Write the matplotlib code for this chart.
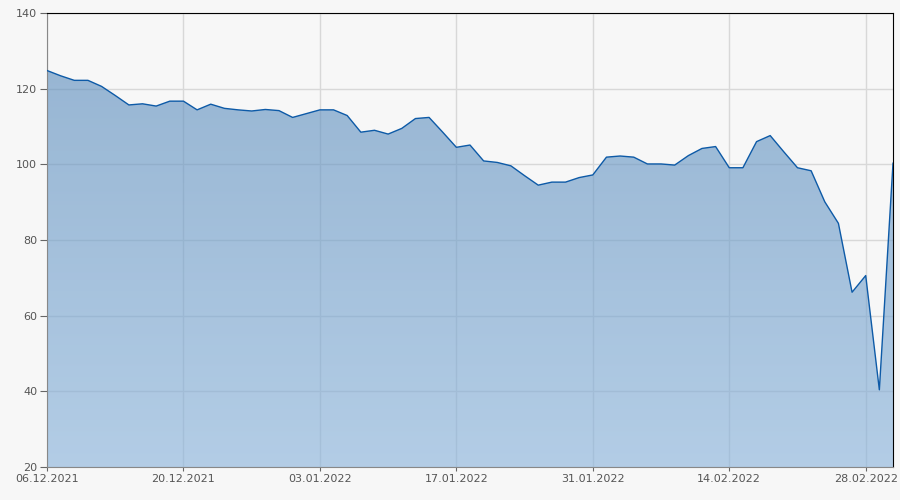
import numpy as np
import matplotlib.pyplot as plt
from matplotlib.patches import Polygon

# 收盘价（按交易日序号排列）
values = [124.8, 123.4, 122.2, 122.2, 120.6, 118.2, 115.7, 116.0, 115.4, 116.7,
          116.7, 114.4, 115.9, 114.8, 114.4, 114.1, 114.5, 114.2, 112.4, 113.4,
          114.4, 114.4, 112.9, 108.5, 109.0, 108.0, 109.5, 112.1, 112.4, 108.5,
          104.5, 105.1, 100.9, 100.5, 99.6, 97.0, 94.5, 95.3, 95.3, 96.5,
          97.2, 101.9, 102.2, 101.9, 100.1, 100.1, 99.8, 102.3, 104.2, 104.7,
          99.1, 99.1, 106.0, 107.6, 103.3, 99.1, 98.3, 90.1, 84.4, 66.2,
          70.6, 40.4, 100.3]
tick_pos = [0, 10, 20, 30, 40, 50, 60]
tick_labels = ['06.12.2021', '20.12.2021', '03.01.2022', '17.01.2022',
               '31.01.2022', '14.02.2022', '28.02.2022']
y_ticks = [20, 40, 60, 80, 100, 120, 140]

bg = '#f7f7f7'
x = np.arange(len(values))
y = np.array(values)

fig = plt.figure(figsize=(9, 5), dpi=100, facecolor=bg)
ax = fig.add_axes([47 / 900, 33 / 500, 846 / 900, 454 / 500], facecolor=bg)
ax.set_xlim(0, len(values) - 1)
ax.set_ylim(20, 140)

ax.grid(True, color='#d8d8d8', linewidth=1)
ax.set_axisbelow(True)

# 渐变填充（上深下浅），用多边形裁剪
a = 0.62
top = (np.array([148, 179, 209]) - (1 - a) * 247) / a / 255
bot = (np.array([179, 205, 230]) - (1 - a) * 247) / a / 255
t = np.linspace(0, 1, 256)[:, None]
grad = np.clip(top * (1 - t) + bot * t, 0, 1)
img = np.ones((256, 1, 4))
img[:, 0, :3] = grad
img[:, 0, 3] = a
poly = Polygon(np.column_stack([np.r_[x[0], x, x[-1]], np.r_[20, y, 20]]),
               closed=True, facecolor='none', edgecolor='none')
ax.add_patch(poly)
im = ax.imshow(img, extent=[0, len(values) - 1, 20, 140], aspect='auto',
               origin='upper', zorder=2)
im.set_clip_path(poly)

ax.plot(x, y, color='#0d5aa7', linewidth=1.0, zorder=3)

ax.set_xticks(tick_pos)
ax.set_xticklabels(tick_labels)
ax.set_yticks(y_ticks)
ax.tick_params(axis='both', labelsize=8, colors='#666666', labelcolor='#555555')
ax.tick_params(axis='y', length=5, pad=2)
ax.tick_params(axis='x', length=3, pad=2)

for s in ['left', 'bottom']:
    ax.spines[s].set_color('#888888')
for s in ['top', 'right']:
    ax.spines[s].set_color('#000000')

fig.savefig('out.png', dpi=100, facecolor=bg)
